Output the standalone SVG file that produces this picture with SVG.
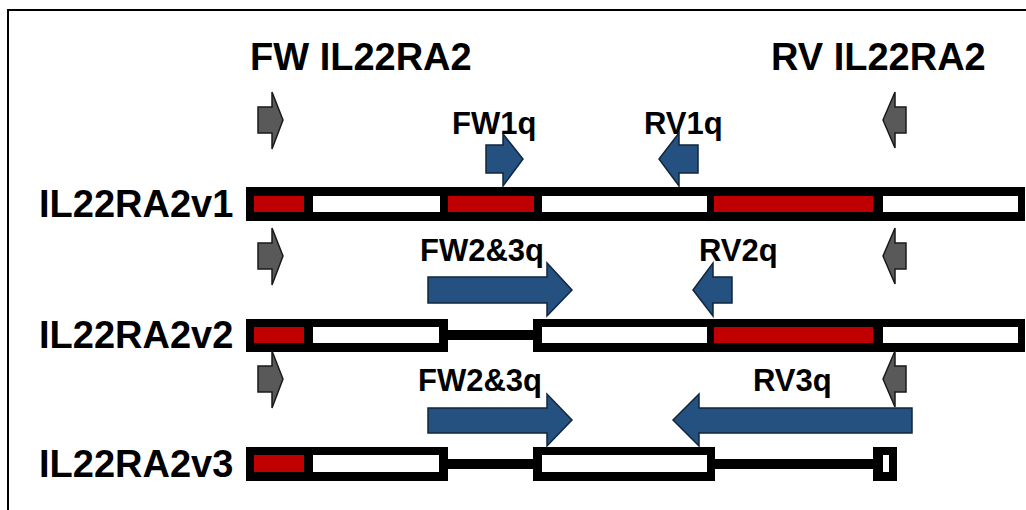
<svg xmlns="http://www.w3.org/2000/svg" width="1026" height="510" viewBox="0 0 1026 510">
<style>
.big{font-family:"Liberation Sans",Arial,sans-serif;font-weight:bold;font-size:38px;fill:#000}
.sm{font-family:"Liberation Sans",Arial,sans-serif;font-weight:bold;font-size:31px;fill:#000}
.blk{fill:#000}
.red{fill:#C00000}
.wht{fill:#fff}
.gray{fill:#595959;stroke:#1a1a1a;stroke-width:1.5;stroke-linejoin:miter}
.blue{fill:#245180;stroke:#10263d;stroke-width:1.5;stroke-linejoin:miter}
</style>
<defs>
<path id="gR" d="M258,-13 H272 V-28 L283,0 L272,29 V13 H258 Z"/>
<path id="gL" d="M906,-13 H895 V-28 L883,0 L895,28 V13 H906 Z"/>
</defs>
<rect x="0" y="0" width="1026" height="510" fill="#fff"/>
<rect id="frame" x="8" y="10" width="1040" height="520" fill="none" stroke="#000" stroke-width="2"/>

<g id="labels">
<text class="big" x="250" y="70">FW IL22RA2</text>
<text class="big" x="771" y="70">RV IL22RA2</text>
</g>

<g id="v1">
<text class="big" x="39" y="217">IL22RA2v1</text>
<rect class="blk" x="246" y="187" width="779" height="34"/>
<rect class="red" x="254" y="196" width="50" height="16"/>
<rect class="wht" x="313" y="196" width="127" height="16"/>
<rect class="red" x="448" y="196" width="86" height="16"/>
<rect class="wht" x="542" y="196" width="165" height="16"/>
<rect class="red" x="714" y="196" width="159" height="16"/>
<rect class="wht" x="883" y="196" width="135" height="16"/>
</g>

<g id="v2">
<text class="big" x="39" y="348">IL22RA2v2</text>
<rect class="blk" x="246" y="319" width="202" height="33"/>
<rect class="red" x="254" y="327" width="50" height="16"/>
<rect class="wht" x="313" y="327" width="126" height="16"/>
<rect class="blk" x="447" y="330" width="88" height="10"/>
<rect class="blk" x="533" y="319" width="492" height="33"/>
<rect class="wht" x="542" y="327" width="165" height="16"/>
<rect class="red" x="714" y="327" width="159" height="16"/>
<rect class="wht" x="883" y="327" width="135" height="16"/>
</g>

<g id="v3">
<text class="big" x="39" y="477">IL22RA2v3</text>
<rect class="blk" x="246" y="447" width="202" height="34"/>
<rect class="red" x="254" y="455" width="50" height="17"/>
<rect class="wht" x="313" y="455" width="126" height="17"/>
<rect class="blk" x="447" y="459" width="88" height="10"/>
<rect class="blk" x="533" y="447" width="182" height="34"/>
<rect class="wht" x="542" y="455" width="165" height="17"/>
<rect class="blk" x="714" y="459" width="160" height="10"/>
<rect class="blk" x="873" y="447" width="24" height="34"/>
<rect class="wht" x="883" y="455" width="6" height="17"/>
</g>

<g id="gray-primers">
<use href="#gR" class="gray" transform="translate(0,120)"/>
<use href="#gL" class="gray" transform="translate(0,120)"/>
<use href="#gR" class="gray" transform="translate(0,256)"/>
<use href="#gL" class="gray" transform="translate(0,256)"/>
<use href="#gR" class="gray" transform="translate(0,379)"/>
<use href="#gL" class="gray" transform="translate(0,379)"/>
</g>

<g id="qpcr-primers">
<text class="sm" x="452" y="134">FW1q</text>
<text class="sm" x="644" y="134">RV1q</text>
<text class="sm" x="420" y="261">FW2&amp;3q</text>
<text class="sm" x="699" y="261">RV2q</text>
<text class="sm" x="418" y="391">FW2&amp;3q</text>
<text class="sm" x="753" y="391">RV3q</text>
<path class="blue" d="M486,145 H503 V134 L523,159 L503,186 V173 H486 Z"/>
<path class="blue" d="M698,145 H679 V133 L659,159 L679,186 V173 H698 Z"/>
<path class="blue" d="M428,277 H547 V263 L572,290 L547,316 V303 H428 Z"/>
<path class="blue" d="M732,277 H713 V263 L693,290 L713,316 V303 H732 Z"/>
<path class="blue" d="M428,408 H547 V394 L572,420 L547,446 V433 H428 Z"/>
<path class="blue" d="M912,408 H699 V394 L673,420 L699,446 V433 H912 Z"/>
</g>
</svg>
